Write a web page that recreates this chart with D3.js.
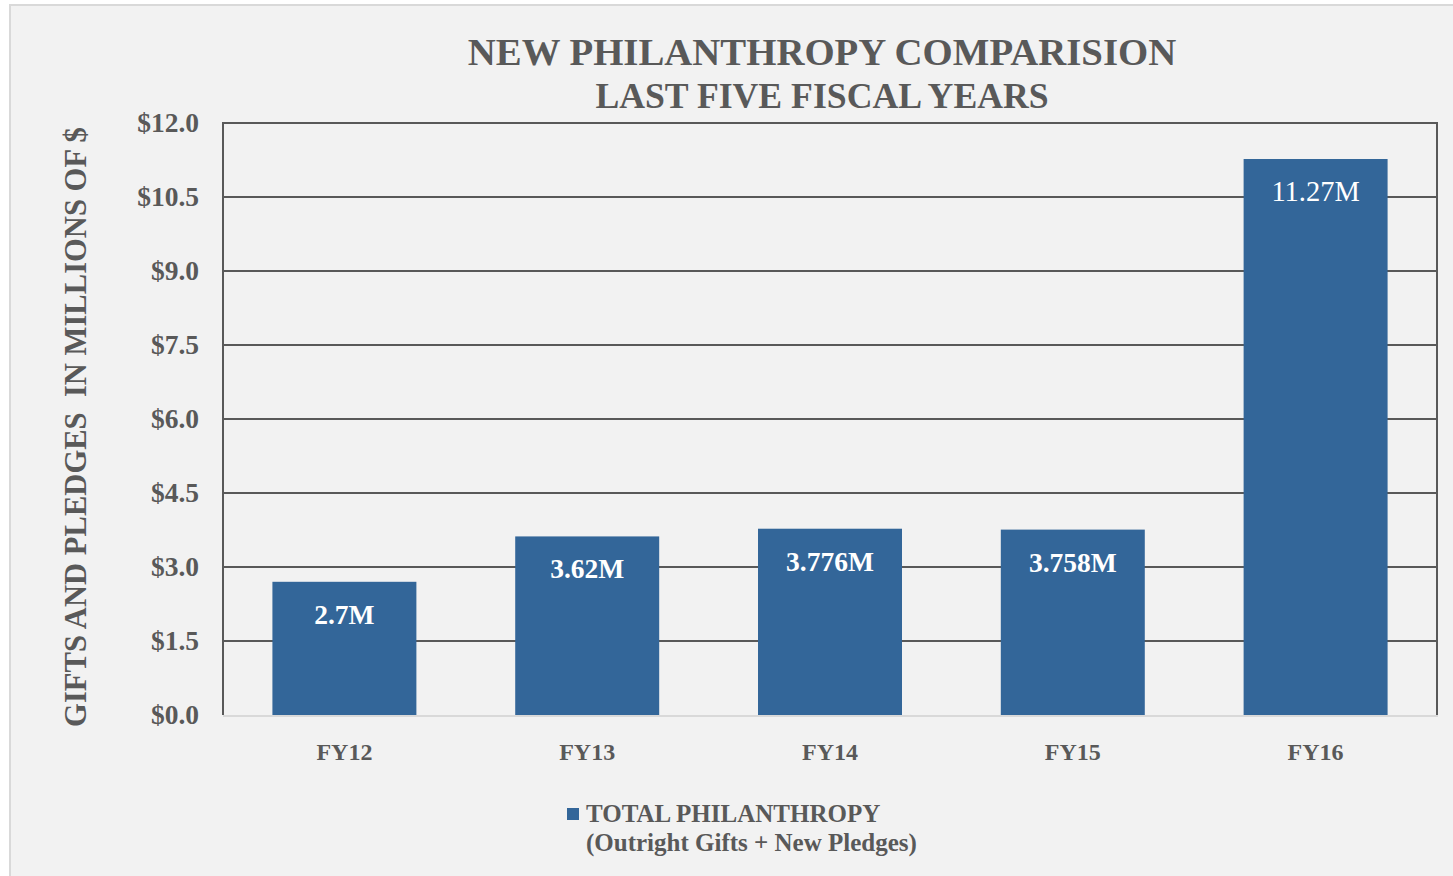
<!DOCTYPE html>
<html>
<head>
<meta charset="utf-8">
<script src="https://cdn.jsdelivr.net/npm/d3@7"></script>
<style>
  html, body { margin: 0; padding: 0; background: #ffffff; }
  svg { display: block; }
  text { font-family: "Liberation Serif", "DejaVu Serif", serif; font-weight: bold; }
</style>
</head>
<body>
<svg id="chart" width="1453" height="876"></svg>
<script>
// Fiscal years and total philanthropy (millions of dollars)
const categories = ["FY12", "FY13", "FY14", "FY15", "FY16"];
const totals = [2.7, 3.62, 3.776, 3.758, 11.27];
const valueLabels = ["2.7M", "3.62M", "3.776M", "3.758M", "11.27M"];
const yTicks = [0, 1.5, 3.0, 4.5, 6.0, 7.5, 9.0, 10.5, 12.0];
const titleLines = ["NEW PHILANTHROPY COMPARISION", "LAST FIVE FISCAL YEARS"];
const yAxisTitle = "GIFTS AND PLEDGES\u00A0 IN MILLIONS OF $";
const legendLines = ["TOTAL PHILANTHROPY", "(Outright Gifts + New Pledges)"];

const svg = d3.select("#chart");
const textColor = "#595959";
const barColor = "#336699";

// Chart frame
svg.append("rect")
  .attr("x", 10).attr("y", 5)
  .attr("width", 1460).attr("height", 890)
  .attr("fill", "#f2f2f2")
  .attr("stroke", "#d9d9d9")
  .attr("stroke-width", 2);

const plot = { left: 223, right: 1437, top: 123, bottom: 715 };

const x = d3.scaleBand()
  .domain(categories)
  .range([plot.left, plot.right])
  .paddingInner(0.407)
  .paddingOuter(0.2035);

const y = d3.scaleLinear()
  .domain([0, 12])
  .range([plot.bottom, plot.top]);

// Horizontal gridlines (zero line drawn separately in light grey)
svg.append("g")
  .selectAll("line")
  .data(yTicks.filter(d => d > 0))
  .join("line")
  .attr("x1", plot.left).attr("x2", plot.right)
  .attr("y1", d => y(d)).attr("y2", d => y(d))
  .attr("stroke", "#595959")
  .attr("stroke-width", 2);

// Vertical plot edges
svg.append("line")
  .attr("x1", plot.left).attr("x2", plot.left)
  .attr("y1", plot.top - 1).attr("y2", plot.bottom)
  .attr("stroke", "#595959").attr("stroke-width", 2);
svg.append("line")
  .attr("x1", plot.right).attr("x2", plot.right)
  .attr("y1", plot.top - 1).attr("y2", plot.bottom)
  .attr("stroke", "#595959").attr("stroke-width", 2);

// Y axis tick labels
const yAxis = d3.axisLeft(y)
  .tickValues(yTicks)
  .tickFormat(d => "$" + d3.format(".1f")(d))
  .tickSize(0)
  .tickPadding(24);
const gy = svg.append("g")
  .attr("transform", `translate(${plot.left},0)`)
  .call(yAxis);
gy.select(".domain").remove();
gy.selectAll("text")
  .attr("fill", textColor)
  .style("font-family", "'Liberation Serif', serif")
  .style("font-weight", "bold")
  .style("font-size", "27.5px");

// Bars
const data = categories.map((c, i) => ({ c, v: totals[i], label: valueLabels[i] }));
svg.append("g")
  .selectAll("rect")
  .data(data)
  .join("rect")
  .attr("x", d => x(d.c))
  .attr("y", d => y(d.v))
  .attr("width", x.bandwidth())
  .attr("height", d => y(0) - y(d.v))
  .attr("fill", barColor);

// Zero baseline
svg.append("line")
  .attr("x1", plot.left).attr("x2", plot.right + 1)
  .attr("y1", y(0) + 1).attr("y2", y(0) + 1)
  .attr("stroke", "#d9d9d9").attr("stroke-width", 2);

// Value labels inside bars
const maxV = d3.max(totals);
svg.append("g")
  .selectAll("text")
  .data(data)
  .join("text")
  .attr("x", d => x(d.c) + x.bandwidth() / 2)
  .attr("y", d => y(d.v) + 42)
  .attr("text-anchor", "middle")
  .attr("fill", "#ffffff")
  .style("font-size", d => d.v === maxV ? "28.5px" : "27.5px")
  .style("font-weight", d => d.v === maxV ? "normal" : "bold")
  .text(d => d.label);

// X axis category labels
const xAxis = d3.axisBottom(x).tickSize(0).tickPadding(28);
const gx = svg.append("g")
  .attr("transform", `translate(0,${plot.bottom})`)
  .call(xAxis);
gx.select(".domain").remove();
gx.selectAll("text")
  .attr("fill", textColor)
  .style("font-family", "'Liberation Serif', serif")
  .style("font-weight", "bold")
  .style("font-size", "24px");

// Title
svg.append("g")
  .selectAll("text")
  .data(titleLines)
  .join("text")
  .attr("x", 822)
  .attr("y", (d, i) => 65 + i * 43)
  .attr("text-anchor", "middle")
  .attr("fill", textColor)
  .style("font-size", (d, i) => i === 0 ? "38.8px" : "35.7px")
  .text(d => d);

// Y axis title
svg.append("text")
  .attr("transform", "translate(86,427) rotate(-90)")
  .attr("text-anchor", "middle")
  .attr("fill", textColor)
  .style("font-size", "30.6px")
  .text(yAxisTitle);

// Legend
svg.append("rect")
  .attr("x", 567).attr("y", 808)
  .attr("width", 12).attr("height", 12)
  .attr("fill", barColor);
svg.append("g")
  .selectAll("text")
  .data(legendLines)
  .join("text")
  .attr("x", 586)
  .attr("y", (d, i) => 822 + i * 29)
  .attr("fill", textColor)
  .style("font-size", "25px")
  .text(d => d);
</script>
</body>
</html>
